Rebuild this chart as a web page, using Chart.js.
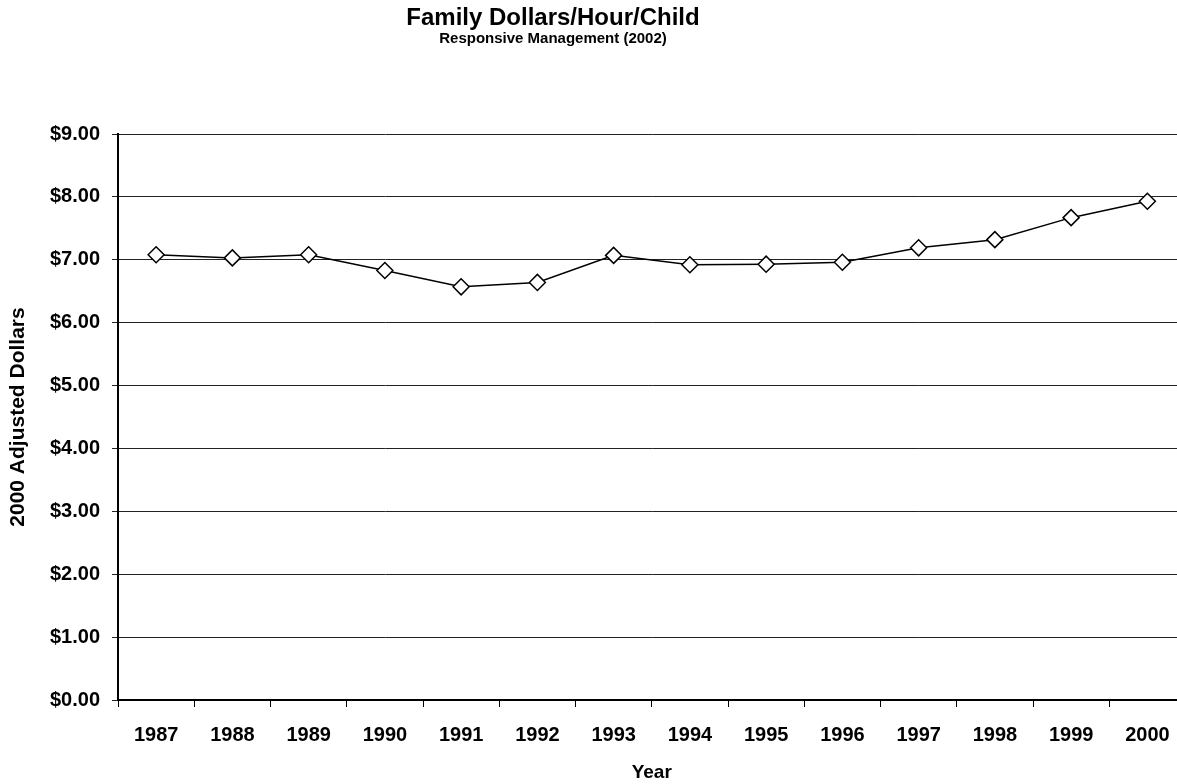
<!DOCTYPE html>
<html>
<head>
<meta charset="utf-8">
<script src="https://cdn.jsdelivr.net/npm/chart.js@4.4.0/dist/chart.umd.min.js"></script>
<style>
  html, body { margin: 0; padding: 0; background: #fff; overflow: hidden; }
  #wrap { width: 1195px; height: 784px; position: relative; }
</style>
</head>
<body>
<div id="wrap"><canvas id="chart"></canvas></div>
<script>
// Data
const years = ['1987', '1988', '1989', '1990', '1991', '1992', '1993',
               '1994', '1995', '1996', '1997', '1998', '1999', '2000'];
const dollarsPerHour = [7.08, 7.03, 7.08, 6.83, 6.57, 6.64, 7.07,
                        6.92, 6.93, 6.96, 7.19, 7.32, 7.67, 7.93];
const titleText = 'Family Dollars/Hour/Child';
const subtitleText = 'Responsive Management (2002)';

const FONT = 'Arial, "Liberation Sans", Helvetica, sans-serif';

// Titulo desenhado a mao (no original nao esta centrado no canvas)
const titlePlugin = {
    id: 'titles',
    afterDraw(chart) {
        const ctx = chart.ctx;
        ctx.save();
        ctx.fillStyle = '#000';
        ctx.textAlign = 'center';
        ctx.textBaseline = 'middle';
        ctx.font = 'bold 24px ' + FONT;
        ctx.fillText(titleText, 553, 18);
        ctx.font = 'bold 15px ' + FONT;
        ctx.fillText(subtitleText, 553, 39);
        ctx.restore();
    }
};

const ctx = document.getElementById('chart').getContext('2d');
new Chart(ctx, {
    type: 'line',
    data: {
        labels: years,
        datasets: [{
            data: dollarsPerHour,
            borderColor: '#000',
            borderWidth: 1.5,
            backgroundColor: '#fff',
            pointStyle: 'rectRot',
            pointRadius: 8,
            pointBorderWidth: 1.5,
            pointBackgroundColor: '#fff',
            pointBorderColor: '#000',
            tension: 0
        }]
    },
    options: {
        responsive: true,
        maintainAspectRatio: false,
        animation: false,
        layout: { padding: { top: 134, right: 2, left: 0, bottom: 0 } },
        plugins: {
            legend: { display: false },
            tooltip: { enabled: false }
        },
        scales: {
            x: {
                offset: true,
                grid: {
                    offset: true,
                    drawOnChartArea: false,
                    drawTicks: true,
                    tickLength: 7,
                    color: '#000'
                },
                border: { color: '#000', width: 2 },
                ticks: {
                    color: '#000',
                    padding: 16,
                    maxRotation: 0,
                    font: { family: FONT, size: 20, weight: 'bold' }
                },
                title: {
                    display: true,
                    text: 'Year',
                    color: '#000',
                    padding: { top: 6, bottom: 0 },
                    font: { family: FONT, size: 19, weight: 'bold' }
                },
                afterFit(scale) { scale.height = 84; }
            },
            y: {
                min: 0,
                max: 9,
                grid: {
                    color: '#222',
                    lineWidth: 1,
                    drawTicks: true,
                    tickLength: 6
                },
                border: { color: '#000', width: 2 },
                ticks: {
                    stepSize: 1,
                    color: '#000',
                    padding: 12,
                    font: { family: FONT, size: 20, weight: 'bold' },
                    callback: v => '$' + Number(v).toFixed(2)
                },
                title: {
                    display: true,
                    text: '2000 Adjusted Dollars',
                    color: '#000',
                    padding: { top: 6, bottom: 4 },
                    font: { family: FONT, size: 21, weight: 'bold' }
                },
                afterFit(scale) { scale.width = 118; }
            }
        }
    },
    plugins: [titlePlugin]
});
</script>
</body>
</html>
